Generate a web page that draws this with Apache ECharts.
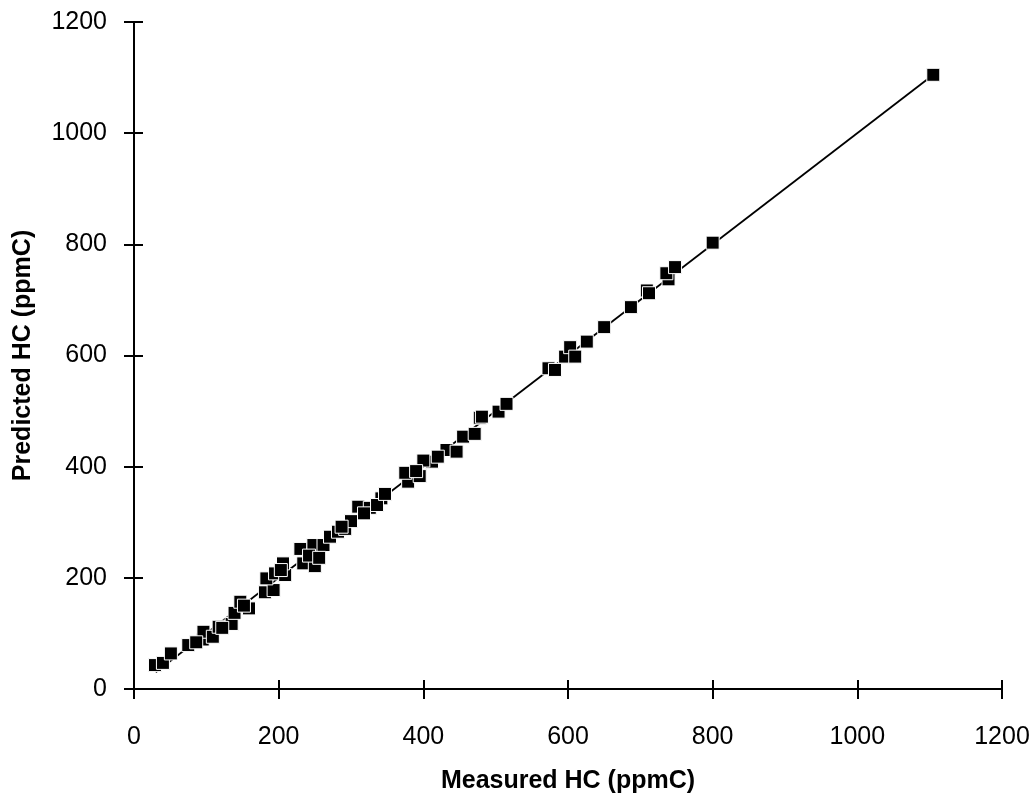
<!DOCTYPE html>
<html>
<head>
<meta charset="utf-8">
<script src="https://cdn.jsdelivr.net/npm/echarts@6/dist/echarts.min.js"></script>
<style>html,body{margin:0;padding:0;background:#fff}#c{width:1033px;height:797px}</style>
</head>
<body>
<div id="c"></div>
<script>
const xTicks = [0, 200, 400, 600, 800, 1000, 1200];
const yTicks = [0, 200, 400, 600, 800, 1000, 1200];
const measured = [29, 40, 51, 75, 95, 96, 109, 117, 135, 139, 147, 159, 181, 193, 183, 195, 209, 206, 234, 230, 250, 248, 262, 271,
  282, 292, 300, 310, 326, 342, 379, 395, 375, 412, 400, 432, 446, 455, 471, 478,
  481, 504, 515, 573, 582, 596, 603, 610, 626, 650, 687, 709, 712, 739, 736, 748, 800, 1105,
  86, 122, 152, 203, 242, 256, 287, 318, 336, 347, 390, 420];
const predicted = [43, 47, 64, 79, 89, 103, 94, 112, 117, 137, 157, 145, 174, 178, 199, 208, 205, 226, 226, 252, 221, 259, 259, 274,
  283, 288, 302, 328, 326, 343, 373, 383, 389, 409, 411, 430, 427, 454, 459, 488,
  490, 499, 513, 577, 574, 598, 615, 598, 625, 651, 687, 717, 712, 737, 748, 759, 803, 1105,
  84, 110, 150, 214, 240, 236, 292, 316, 331, 351, 392, 418];
const lineX = [30, 1105];
const lineY = [30, 1105];

const points = measured.map((m, i) => [m, predicted[i]]);
const linePts = lineX.map((x, i) => [x, lineY[i]]);

const font = 'Liberation Sans, Arial, sans-serif';
const baseAxis = {
  min: 0, max: 1200, interval: 200,
  splitLine: {show: false},
  axisLine: {show: true, onZero: false, lineStyle: {color: '#000', width: 2}},
  axisTick: {show: true, length: 10, lineStyle: {color: '#000', width: 2}},
};
const chart = echarts.init(document.getElementById('c'), null, {renderer: 'canvas'});
chart.setOption({
  animation: false,
  backgroundColor: '#fff',
  grid: {left: 134, right: 31, top: 22, bottom: 108, containLabel: false, outerBoundsMode: 'none'},
  xAxis: [
    Object.assign({}, baseAxis, {
      type: 'value', position: 'bottom',
      name: 'Measured HC (ppmC)', nameLocation: 'middle', nameGap: 80,
      nameTextStyle: {fontFamily: font, fontSize: 25, fontWeight: 'bold', color: '#000'},
      axisLabel: {fontFamily: font, fontSize: 25, color: '#000', margin: 36,
        formatter: v => xTicks.includes(v) ? String(v) : ''},
    }),
    Object.assign({}, baseAxis, {
      type: 'value', position: 'bottom',
      axisTick: {show: true, inside: true, length: 9, lineStyle: {color: '#000', width: 2}},
      axisLabel: {show: false}
    })
  ],
  yAxis: [
    Object.assign({}, baseAxis, {
      type: 'value', position: 'left',
      name: 'Predicted HC (ppmC)', nameLocation: 'middle', nameGap: 98,
      nameTextStyle: {fontFamily: font, fontSize: 25, fontWeight: 'bold', color: '#000'},
      axisLabel: {fontFamily: font, fontSize: 25, color: '#000', margin: 27,
        formatter: v => yTicks.includes(v) ? String(v) : ''},
    }),
    Object.assign({}, baseAxis, {
      type: 'value', position: 'left',
      axisTick: {show: true, inside: true, length: 9, lineStyle: {color: '#000', width: 2}},
      axisLabel: {show: false}
    })
  ],
  series: [
    {
      type: 'line', data: linePts, showSymbol: false, symbol: 'none',
      lineStyle: {color: '#000', width: 1.8}, z: 2
    },
    {
      type: 'scatter', data: points, symbol: 'rect', symbolSize: 13,
      itemStyle: {color: '#000', borderColor: '#fff', borderWidth: 1, opacity: 1}, z: 3
    }
  ]
});
</script>
</body>
</html>
